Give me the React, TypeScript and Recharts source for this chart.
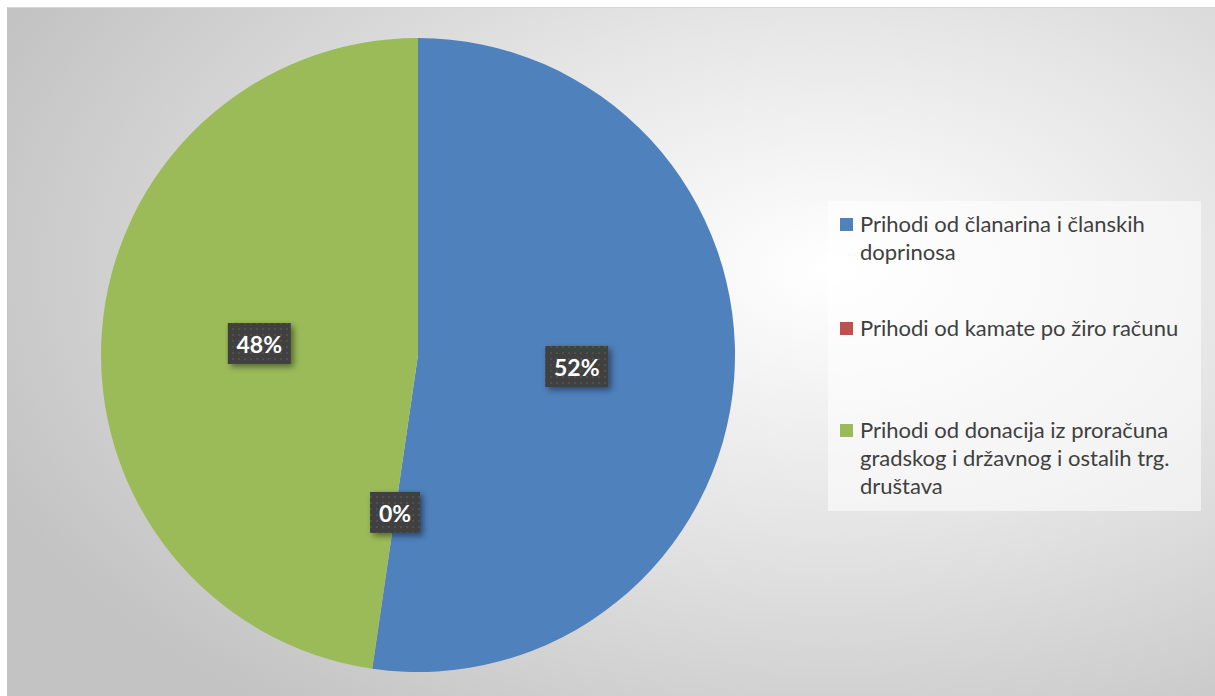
import React from 'react';
import { PieChart, Pie, Cell, Legend } from 'recharts';

const categories = [
  'Prihodi od članarina i članskih doprinosa',
  'Prihodi od kamate po žiro računu',
  'Prihodi od donacija iz proračuna gradskog i državnog i ostalih trg. društava',
];
const shares = [52.3, 0.01, 47.69];
const colors = ['#4f81bd', '#c0504d', '#9bbb59'];

const data = categories.map((name, i) => ({ name, value: shares[i] }));

const RAD = Math.PI / 180;
const legendTops = [9, 113, 215];

const renderLabel = (props: any) => {
  const { cx, cy, midAngle, outerRadius, percent, index } = props;
  const r = outerRadius * 0.502;
  const x = cx + r * Math.cos(-midAngle * RAD);
  const y = cy + r * Math.sin(-midAngle * RAD);
  const text = `${Math.round(percent * 100)}%`;
  const w = text.length === 2 ? 50 : 63;
  const h = 41;
  return (
    <g key={`lbl-${index}`}>
      <defs>
        <pattern id={`dots-${index}`} width="6" height="6" patternUnits="userSpaceOnUse">
          <rect width="6" height="6" fill="#404040" />
          <rect x="2" y="2" width="2" height="2" fill="#4f4f4f" />
        </pattern>
        <filter id={`shadow-${index}`} x="-30%" y="-30%" width="170%" height="170%">
          <feDropShadow dx="3" dy="3" stdDeviation="3" floodColor="#000" floodOpacity="0.45" />
        </filter>
      </defs>
      <rect
        x={x - w / 2}
        y={y - h / 2}
        width={w}
        height={h}
        fill={`url(#dots-${index})`}
        filter={`url(#shadow-${index})`}
      />
      <text
        x={x}
        y={y + 1}
        fill="#ffffff"
        textAnchor="middle"
        dominantBaseline="central"
        fontFamily="Lato, 'Open Sans', sans-serif"
        fontWeight="bold"
        fontSize={23}
      >
        {text}
      </text>
    </g>
  );
};

const renderLegend = (props: any) => {
  const items = [...(props.payload || [])].sort(
    (a: any, b: any) => categories.indexOf(a.value) - categories.indexOf(b.value)
  );
  return (
    <div
      style={{
        position: 'relative',
        width: 373,
        height: 310,
        backgroundColor: 'rgba(255,255,255,0.55)',
        fontFamily: "Lato, 'Open Sans', sans-serif",
        fontSize: 22,
        lineHeight: '28px',
        color: '#404040',
      }}
    >
      {items.map((entry: any, i: number) => (
        <div
          key={`leg-${i}`}
          style={{ position: 'absolute', left: 12, top: legendTops[i], display: 'flex' }}
        >
          <div
            style={{
              width: 13,
              height: 13,
              marginTop: 8,
              marginRight: 7,
              backgroundColor: entry.color,
              flexShrink: 0,
            }}
          />
          <div style={{ width: 340 }}>{entry.value}</div>
        </div>
      ))}
    </div>
  );
};

export default function App() {
  return (
    <div style={{ position: 'absolute', left: 0, top: 0, width: 1215, height: 696, background: '#fff' }}>
      <style>{'body{margin:0}'}</style>
      <div
        style={{
          position: 'absolute',
          left: 7,
          top: 7,
          width: 1208,
          height: 689,
          borderTop: '1px solid #d6d6d6',
          borderLeft: '1px solid #c4c4c4',
          background: 'radial-gradient(ellipse 75% 80% at 68% 38%, #ffffff 0%, #e6e6e6 45%, #c3c3c3 100%)',
        }}
      >
        <PieChart width={1207} height={688} margin={{ top: 0, right: 0, bottom: 0, left: 0 }}>
          <Pie
            data={data}
            dataKey="value"
            nameKey="name"
            cx={410}
            cy={347}
            outerRadius={317}
            startAngle={90}
            endAngle={-270}
            stroke="none"
            label={renderLabel}
            labelLine={false}
            isAnimationActive={false}
          >
            {data.map((d, i) => (
              <Cell key={d.name} fill={colors[i]} />
            ))}
          </Pie>
          <Legend
            layout="vertical"
            content={renderLegend}
            wrapperStyle={{ position: 'absolute', left: 820, top: 193, width: 373, height: 310 }}
          />
        </PieChart>
      </div>
    </div>
  );
}
